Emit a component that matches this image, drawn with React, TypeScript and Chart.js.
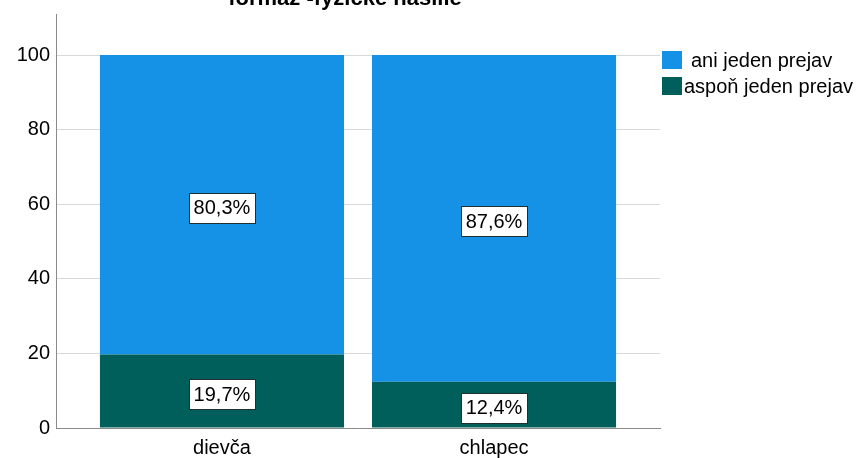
import React, { useEffect, useRef } from "react";
import { Chart, registerables } from "chart.js";

Chart.register(...registerables);

const categories = ["dievča", "chlapec"];
const aniJedenPrejav = [80.3, 87.6];
const asponJedenPrejav = [19.7, 12.4];
const seriesLabels = ["aspoň jeden prejav", "ani jeden prejav"];
const seriesColors = ["#005e5b", "#1591e6"];
const yTicks = [0, 20, 40, 60, 80, 100];
const titleText = "formaž -fyzické násilie";

const FONT = "'Liberation Sans', Arial, sans-serif";

const titlePlugin = {
  id: "cutTitle",
  afterDraw(chart: any) {
    const ctx = chart.ctx;
    ctx.save();
    ctx.font = `bold 22px ${FONT}`;
    ctx.fillStyle = "#000";
    ctx.textAlign = "center";
    ctx.textBaseline = "alphabetic";
    ctx.fillText(titleText, 345, 5);
    ctx.restore();
  },
};

const legendPlugin = {
  id: "customLegend",
  afterDraw(chart: any) {
    const ctx = chart.ctx;
    const ds = chart.data.datasets;
    ctx.save();
    ctx.font = `20px ${FONT}`;
    ctx.textBaseline = "alphabetic";
    ctx.textAlign = "left";
    const order = [...ds.keys()].reverse();
    const boxTops = [51, 77];
    const textX = [691, 684];
    const baselines = [67, 93];
    order.forEach((di: number, k: number) => {
      ctx.fillStyle = ds[di].backgroundColor;
      ctx.fillRect(662, boxTops[k], 20, 18);
      ctx.fillStyle = "#000";
      ctx.fillText(ds[di].label, textX[k], baselines[k]);
    });
    ctx.restore();
  },
};

const labelPlugin = {
  id: "valueLabels",
  afterDatasetsDraw(chart: any) {
    const ctx = chart.ctx;
    ctx.save();
    ctx.font = `20px ${FONT}`;
    ctx.textAlign = "center";
    ctx.textBaseline = "middle";
    chart.data.datasets.forEach((d: any, di: number) => {
      const meta = chart.getDatasetMeta(di);
      meta.data.forEach((el: any, i: number) => {
        const v = d.data[i].y;
        const txt = v.toFixed(1).replace(".", ",") + "%";
        const cx = el.x;
        const cy = (el.y + el.base) / 2 + 3;
        const w = ctx.measureText(txt).width + 9;
        const h = 30;
        ctx.fillStyle = "#fff";
        ctx.fillRect(Math.round(cx - w / 2) + 0.5, Math.round(cy - h / 2) + 0.5, Math.round(w), h);
        ctx.strokeStyle = "#1f2f2f";
        ctx.lineWidth = 1;
        ctx.strokeRect(Math.round(cx - w / 2) + 0.5, Math.round(cy - h / 2) + 0.5, Math.round(w), h);
        ctx.fillStyle = "#000";
        ctx.fillText(txt, cx, cy + 1);
      });
    });
    ctx.restore();
  },
};

export default function App() {
  const ref = useRef<HTMLCanvasElement>(null);
  useEffect(() => {
    if (!ref.current) return;
    const chart = new Chart(ref.current, {
      type: "bar",
      data: {
        datasets: [
          {
            label: seriesLabels[0],
            data: categories.map((_, i) => ({ x: i, y: asponJedenPrejav[i] })),
            backgroundColor: seriesColors[0],
            borderWidth: 0,
            categoryPercentage: 1,
            barPercentage: 0.897,
          },
          {
            label: seriesLabels[1],
            data: categories.map((_, i) => ({ x: i, y: aniJedenPrejav[i] })),
            backgroundColor: seriesColors[1],
            borderWidth: 0,
            categoryPercentage: 1,
            barPercentage: 0.897,
          },
        ],
      } as any,
      options: {
        animation: false,
        responsive: true,
        maintainAspectRatio: false,
        layout: { padding: { top: 14, right: 204, left: 0, bottom: 0 } },
        plugins: {
          legend: { display: false },
          tooltip: { enabled: false },
          title: { display: false },
        },
        scales: {
          x: {
            type: "linear",
            min: -0.61,
            max: 1.61,
            offset: false,
            stacked: true,
            grid: { display: false, drawTicks: false },
            border: { color: "#8a8a8a", width: 1 },
            ticks: {
              color: "#000",
              font: { family: FONT, size: 20 },
              padding: 8,
              maxRotation: 0,
              callback: (v: any) => categories[v] ?? "",
            },
            afterBuildTicks: (s: any) => {
              s.ticks = categories.map((_, i) => ({ value: i }));
            },
            afterFit: (s: any) => {
              s.height = 30;
              s.paddingLeft = 0;
              s.paddingRight = 0;
            },
          },
          y: {
            stacked: true,
            min: 0,
            max: 111,
            grid: { color: "#d9d9d9", drawTicks: false },
            border: { color: "#8a8a8a", width: 1 },
            ticks: {
              color: "#000",
              font: { family: FONT, size: 20 },
              padding: 6,
            },
            afterBuildTicks: (s: any) => {
              s.ticks = yTicks.map((v) => ({ value: v }));
            },
            afterFit: (s: any) => {
              s.width = 56;
              s.paddingTop = 0;
              s.paddingBottom = 0;
            },
          },
        },
      } as any,
      plugins: [labelPlugin, legendPlugin, titlePlugin],
    });
    return () => chart.destroy();
  }, []);
  return (
    <div style={{ position: "fixed", left: 0, top: 0, width: 864, height: 458, background: "#fff" }}>
      <canvas ref={ref} />
    </div>
  );
}
